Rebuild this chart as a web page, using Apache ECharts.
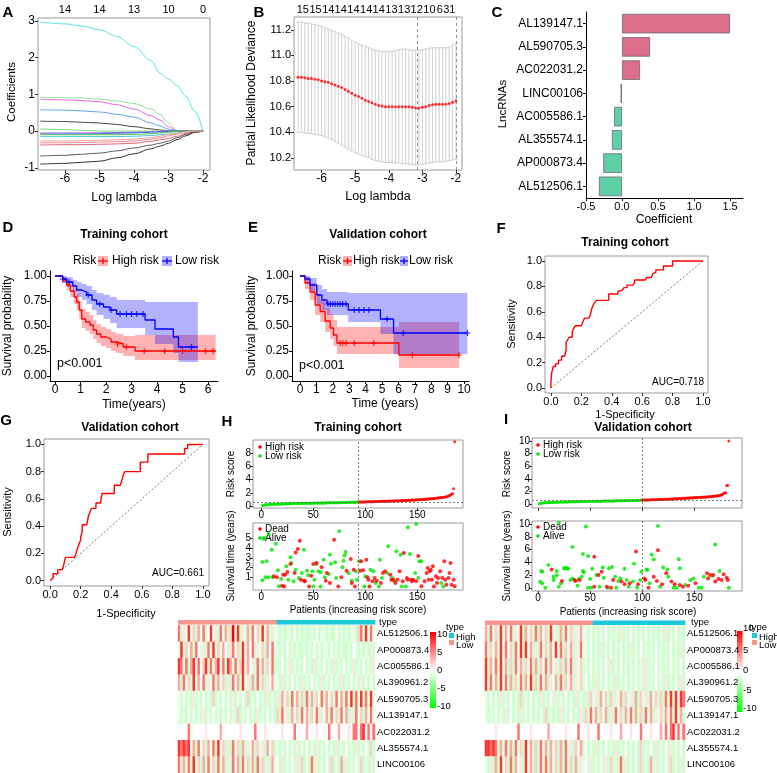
<!DOCTYPE html>
<html><head><meta charset="utf-8">
<script src="https://cdn.jsdelivr.net/npm/echarts@6/dist/echarts.min.js"></script>
<style>html,body{margin:0;padding:0;background:#fff}#c{width:777px;height:773px}</style>
</head><body><div id="c"></div>
<script>
// ================= DATA =================
// Panel A: LASSO coefficient paths
const lambdaA = [-6.72,-6.0,-5.5,-5.0,-4.5,-4.0,-3.5,-3.25,-3.0,-2.75,-2.5,-2.25,-2.0];
const coefPathsA = [
  [2.97,2.92,2.86,2.76,2.58,2.3,1.92,1.58,1.42,1.24,0.95,0.55,0],
  [0.92,0.91,0.9,0.87,0.82,0.75,0.6,0.45,0.22,0,0,0,0],
  [0.87,0.85,0.83,0.8,0.72,0.6,0.42,0.3,0.12,0,0,0,0],
  [0.58,0.57,0.55,0.52,0.46,0.38,0.22,0.14,0.05,0,0,0,0],
  [0.27,0.26,0.24,0.22,0.18,0.12,0.06,0.03,0.01,0,0,0,0],
  [0.06,0.04,0.02,0,0,0,0,0,0,0,0,0,0],
  [-0.05,-0.05,-0.05,-0.05,-0.04,-0.03,-0.02,-0.01,0,0,0,0,0],
  [-0.08,-0.08,-0.08,-0.07,-0.06,-0.05,-0.03,-0.02,-0.01,0,0,0,0],
  [-0.15,-0.15,-0.15,-0.15,-0.15,-0.14,-0.12,-0.1,-0.08,-0.05,-0.02,0,0],
  [-0.32,-0.32,-0.31,-0.3,-0.29,-0.27,-0.22,-0.18,-0.13,-0.08,-0.03,0,0],
  [-0.38,-0.37,-0.37,-0.36,-0.35,-0.33,-0.28,-0.24,-0.2,-0.14,-0.07,-0.01,0],
  [-0.68,-0.66,-0.63,-0.6,-0.54,-0.46,-0.38,-0.33,-0.27,-0.18,-0.09,-0.02,0],
  [-0.9,-0.88,-0.85,-0.82,-0.73,-0.62,-0.48,-0.41,-0.33,-0.23,-0.13,-0.04,0],
  [-0.1,-0.1,-0.1,-0.1,-0.1,-0.09,-0.07,-0.05,-0.03,-0.01,0,0,0],
  [-0.27,-0.27,-0.26,-0.25,-0.24,-0.22,-0.18,-0.14,-0.1,-0.06,-0.02,0,0]
];
const topTicksA = [-6,-5,-4,-3,-2];
const topLabelsA = ['14','14','13','10','0'];

// Panel B: cross-validation
const lambdaB = [-6.7,-6.6,-6.5,-6.4,-6.3,-6.2,-6.1,-6.0,-5.9,-5.8,-5.7,-5.6,-5.5,-5.4,-5.3,-5.2,-5.1,-5.0,-4.9,-4.8,-4.7,-4.6,-4.5,-4.4,-4.3,-4.2,-4.1,-4.0,-3.9,-3.8,-3.7,-3.6,-3.5,-3.4,-3.3,-3.2,-3.1,-3.0,-2.9,-2.8,-2.7,-2.6,-2.5,-2.4,-2.3,-2.2,-2.1,-2.0];
const meanB = [10.83,10.83,10.825,10.82,10.82,10.815,10.81,10.80,10.795,10.79,10.78,10.77,10.76,10.75,10.735,10.72,10.705,10.69,10.68,10.665,10.65,10.64,10.63,10.62,10.61,10.605,10.6,10.6,10.6,10.6,10.6,10.6,10.6,10.6,10.595,10.59,10.59,10.595,10.6,10.61,10.615,10.62,10.62,10.62,10.62,10.625,10.635,10.645];
const upperB = [11.26,11.26,11.255,11.25,11.245,11.24,11.235,11.225,11.215,11.205,11.195,11.185,11.175,11.165,11.15,11.135,11.12,11.105,11.09,11.08,11.07,11.06,11.05,11.04,11.035,11.03,11.03,11.03,11.035,11.04,11.045,11.05,11.05,11.045,11.04,11.04,11.04,11.045,11.05,11.055,11.06,11.06,11.06,11.06,11.06,11.065,11.08,11.095];
const lowerB = [10.40,10.40,10.395,10.39,10.39,10.385,10.38,10.375,10.365,10.355,10.345,10.33,10.315,10.3,10.285,10.27,10.255,10.24,10.23,10.22,10.21,10.2,10.19,10.18,10.175,10.17,10.165,10.165,10.165,10.16,10.16,10.155,10.155,10.15,10.15,10.145,10.145,10.15,10.155,10.16,10.165,10.17,10.17,10.17,10.175,10.18,10.185,10.19];
const topTicksB = [-6.556,-6.18,-5.80,-5.43,-5.05,-4.67,-4.30,-3.92,-3.54,-3.17,-2.79,-2.48,-2.29,-2.11];
const topLabelsB = ['15','15','14','14','14','14','14','13','13','12','10','6','3','1'];
const cvLinesB = [-3.15,-2.0];

// Panel C: coefficients
const lncNames = ['AL139147.1','AL590705.3','AC022031.2','LINC00106','AC005586.1','AL355574.1','AP000873.4','AL512506.1'];
const lncCoef = [1.50,0.39,0.25,-0.02,-0.11,-0.14,-0.26,-0.32];

// Panel D: KM training
const tHighD = [0,0.3,0.45,0.6,0.75,0.85,0.95,1.05,1.2,1.37,1.5,1.63,1.8,2.0,2.2,2.4,2.68,3.14,6.3];
const sHighD = [1,0.96,0.91,0.85,0.79,0.74,0.66,0.57,0.54,0.51,0.46,0.42,0.39,0.37,0.34,0.32,0.29,0.25,0.25];
const uHighD = [1,0.99,0.96,0.91,0.86,0.82,0.75,0.67,0.64,0.61,0.56,0.52,0.49,0.47,0.44,0.42,0.40,0.41,0.41];
const lHighD = [1,0.93,0.86,0.79,0.72,0.66,0.57,0.48,0.45,0.42,0.37,0.33,0.30,0.28,0.25,0.23,0.20,0.16,0.16];
const tLowD = [0,0.3,0.46,0.7,0.85,1.05,1.24,1.45,1.63,1.9,2.16,2.42,3.07,3.53,3.92,4.64,4.84,5.6];
const sLowD = [1,0.97,0.94,0.9,0.86,0.84,0.81,0.76,0.72,0.69,0.66,0.62,0.62,0.56,0.47,0.39,0.29,0.29];
const uLowD = [1,1,0.99,0.96,0.94,0.92,0.9,0.86,0.83,0.81,0.79,0.76,0.76,0.74,0.74,0.74,0.74,0.74];
const lLowD = [1,0.93,0.89,0.84,0.79,0.76,0.72,0.66,0.61,0.57,0.53,0.48,0.48,0.41,0.32,0.23,0.14,0.14];
const censHighD = [2.45,2.8,3.5,4.3,5.0,5.9,6.2];
const censLowD = [0.3,0.55,1.3,1.75,2.2,2.55,2.8,3.0,3.2,3.45,5.35];

// Panel E: KM validation
const tHighE = [0,0.3,0.61,0.92,1.23,1.53,1.84,2.04,2.25,6.03,9.7];
const sHighE = [1,0.93,0.84,0.71,0.645,0.55,0.48,0.41,0.33,0.21,0.21];
const uHighE = [1,0.99,0.93,0.82,0.76,0.68,0.62,0.56,0.49,0.54,0.54];
const lHighE = [1,0.87,0.76,0.61,0.54,0.44,0.37,0.30,0.22,0.08,0.08];
const tLowE = [0,0.3,0.61,1.02,1.33,1.64,2.94,4.9,5.7,10.2];
const sLowE = [1,0.97,0.91,0.81,0.76,0.72,0.66,0.57,0.43,0.43];
const uLowE = [1,1,0.98,0.91,0.87,0.84,0.83,0.83,0.83,0.83];
const lLowE = [1,0.93,0.85,0.72,0.66,0.61,0.54,0.42,0.22,0.22];
const censHighE = [2.45,2.6,2.8,3.3,4.5,6.85,9.7];
const censLowE = [1.7,1.85,2.0,2.15,2.3,2.45,2.6,2.8,3.3,3.6,3.9,4.2,5.3,6.3,10.2];

// Panels F/G: ROC
const fprF = [0,0,0.005,0.005,0.015,0.015,0.03,0.03,0.05,0.05,0.07,0.07,0.09,0.1,0.1,0.11,0.12,0.14,0.14,0.15,0.16,0.2,0.21,0.22,0.25,0.26,0.27,0.28,0.3,0.38,0.38,0.44,0.44,0.47,0.48,0.5,0.5,0.54,0.55,0.55,0.62,0.63,0.66,0.67,0.69,0.69,0.74,0.74,0.8,0.8,1.0];
const tprF = [0,0.05,0.05,0.12,0.12,0.17,0.17,0.19,0.19,0.22,0.22,0.25,0.25,0.3,0.36,0.38,0.4,0.4,0.44,0.47,0.49,0.49,0.52,0.55,0.55,0.58,0.63,0.66,0.69,0.69,0.74,0.74,0.76,0.77,0.79,0.79,0.81,0.81,0.83,0.85,0.85,0.87,0.87,0.9,0.91,0.93,0.93,0.96,0.96,1.0,1.0];
const fprG = [0,0.02,0.02,0.05,0.05,0.08,0.09,0.1,0.16,0.17,0.18,0.19,0.2,0.2,0.21,0.21,0.24,0.25,0.26,0.27,0.3,0.3,0.33,0.34,0.42,0.42,0.46,0.47,0.48,0.49,0.59,0.59,0.64,0.64,0.88,0.88,0.9,0.9,1.0];
const tprG = [0,0.02,0.05,0.05,0.08,0.08,0.12,0.17,0.17,0.2,0.24,0.27,0.3,0.32,0.36,0.41,0.41,0.47,0.5,0.53,0.53,0.57,0.57,0.64,0.64,0.7,0.7,0.74,0.78,0.8,0.8,0.87,0.87,0.93,0.93,0.97,0.97,1.0,1.0];
const aucF = 'AUC=0.718', aucG = 'AUC=0.661';

// Panel H: training risk plot
const riskLowH = [0.06,0.11,0.15,0.18,0.2,0.21,0.23,0.24,0.25,0.26,0.27,0.28,0.28,0.29,0.3,0.3,0.31,0.31,0.32,0.32,0.33,0.33,0.34,0.34,0.35,0.35,0.35,0.36,0.36,0.37,0.37,0.37,0.38,0.38,0.38,0.39,0.39,0.39,0.4,0.4,0.4,0.41,0.41,0.41,0.42,0.42,0.42,0.43,0.43,0.43,0.44,0.44,0.44,0.45,0.45,0.45,0.46,0.46,0.46,0.47,0.47,0.47,0.48,0.48,0.48,0.49,0.49,0.49,0.5,0.5,0.5,0.51,0.51,0.51,0.52,0.52,0.52,0.53,0.53,0.53,0.54,0.54,0.55,0.55,0.55,0.56,0.56,0.57,0.57,0.58,0.58,0.59,0.59];
const riskHighH = [0.6,0.6,0.61,0.61,0.62,0.62,0.62,0.63,0.63,0.64,0.64,0.65,0.65,0.66,0.66,0.67,0.67,0.68,0.68,0.69,0.69,0.7,0.7,0.71,0.71,0.72,0.72,0.73,0.73,0.74,0.75,0.75,0.76,0.76,0.77,0.78,0.78,0.79,0.8,0.8,0.81,0.82,0.82,0.83,0.84,0.85,0.85,0.86,0.87,0.88,0.89,0.9,0.9,0.91,0.92,0.93,0.94,0.95,0.96,0.97,0.98,0.99,1.0,1.01,1.02,1.04,1.05,1.06,1.08,1.09,1.1,1.12,1.14,1.15,1.17,1.19,1.21,1.23,1.25,1.27,1.29,1.31,1.33,1.36,1.4,1.45,1.5,1.58,1.68,1.8,1.85,2.6,9.7];
const cutH = 93, riskCutH = 0.58;
const deadH = [[12,1.1],[15,1.0],[20,0.14],[22,0.05],[21,1.27],[23,1.27],[25,1.55],[28,2.37],[32,1.44],[33,3.57],[35,3.92],[37,4.78],[38,0.76],[41,0.65],[42,0.58],[46,0.05],[48,1.17],[50,2.37],[53,2.47],[58,2.03],[62,0.65],[63,1.44],[66,0.41],[70,4.88],[74,0.05],[77,1.0],[82,1.68],[86,2.89],[87,0.41],[89,1.79],[90,0.05],[95,1.68],[96,2.65],[98,1.72],[101,2.82],[102,1.0],[103,0.76],[104,0.05],[107,0.58],[109,0.93],[111,0.65],[115,0.41],[117,1.44],[119,1.62],[124,1.27],[125,0.76],[127,0.76],[129,0.41],[131,0.76],[133,1.62],[136,0.58],[137,3.5],[140,0.93],[141,0.76],[144,0.76],[145,0.58],[146,0.76],[149,0.58],[151,3.2],[154,0.07],[157,0.58],[159,1.44],[160,1.96],[161,0.76],[162,1.62],[163,1.79],[164,0.76],[165,2.13],[166,0.05],[168,1.1],[169,0.41],[170,0.93],[172,1.62],[174,0.93],[176,2.65],[177,0.76],[178,0.24],[180,0.93],[181,1.44],[182,2.47],[183,0.24],[185,0.76],[186,0.07]];
const aliveH = [[1,0.69],[1,2.58],[2,4.98],[3,5.05],[7,5.46],[5,2.65],[4,1.0],[7,1.0],[10,3.85],[11,1.0],[14,4.47],[16,1.72],[17,0.07],[19,0.82],[24,2.13],[26,0.76],[28,3.06],[29,2.47],[31,0.58],[33,1.79],[36,0.93],[39,1.44],[41,3.85],[44,1.68],[45,1.2],[49,1.62],[50,0.05],[51,0.76],[53,2.37],[55,1.62],[57,1.51],[57,0.05],[60,2.82],[61,1.0],[65,1.34],[66,3.33],[67,2.41],[71,2.54],[72,0.93],[75,5.74],[78,2.03],[79,2.71],[80,3.26],[81,3.61],[84,1.44],[87,0.65],[91,1.62],[92,0.76],[94,2.65],[99,0.05],[100,1.1],[105,1.79],[108,1.62],[110,0.41],[113,0.05],[114,2.82],[116,0.93],[121,1.44],[122,4.19],[126,0.93],[128,0.58],[130,3.68],[134,3.33],[135,0.05],[139,0.05],[141,6.15],[143,3.4],[148,1.44],[149,6.5],[151,0.93],[152,2.65],[154,2.65],[173,0.41],[175,0.05]];

// Panel I: validation risk plot
const riskLowI = [0.05,0.09,0.12,0.15,0.17,0.19,0.2,0.21,0.22,0.23,0.24,0.25,0.26,0.26,0.27,0.28,0.28,0.29,0.3,0.3,0.31,0.31,0.32,0.32,0.33,0.33,0.34,0.34,0.35,0.35,0.36,0.36,0.36,0.37,0.37,0.38,0.38,0.38,0.39,0.39,0.4,0.4,0.4,0.41,0.41,0.41,0.42,0.42,0.42,0.43,0.43,0.43,0.44,0.44,0.44,0.45,0.45,0.45,0.46,0.46,0.46,0.47,0.47,0.47,0.48,0.48,0.48,0.49,0.49,0.49,0.5,0.5,0.5,0.51,0.51,0.51,0.52,0.52,0.52,0.53,0.53,0.54,0.54,0.54,0.55,0.55,0.56,0.56,0.56,0.57,0.57,0.58,0.58,0.59,0.59,0.6,0.6,0.61,0.61];
const riskHighI = [0.62,0.62,0.63,0.63,0.64,0.64,0.65,0.65,0.66,0.66,0.67,0.67,0.68,0.69,0.69,0.7,0.7,0.71,0.72,0.72,0.73,0.74,0.74,0.75,0.76,0.77,0.77,0.78,0.79,0.8,0.81,0.82,0.83,0.84,0.85,0.86,0.87,0.88,0.89,0.9,0.91,0.92,0.93,0.94,0.95,0.96,0.97,0.98,0.99,1.0,1.01,1.02,1.03,1.04,1.05,1.06,1.07,1.08,1.09,1.1,1.11,1.12,1.13,1.15,1.16,1.17,1.19,1.2,1.22,1.24,1.26,1.28,1.3,1.33,1.36,1.4,1.45,1.55,1.7,1.75,1.8,2.9,3.0,10.0];
const cutI = 99.5, riskCutI = 0.59;
const aliveI = [[20,10.2],[46,9.6],[115,9.7],[33,6.4],[43,5.3],[48,5.0],[92,3.8],[109,5.2],[111,4.5],[170,6.8],[135,4.5],[120,3.2],[124,2.9],[136,3.1],[3,2.65],[10,3.6],[18,2.65],[25,3.1],[27,3.1],[29,3.0],[52,3.0],[62,3.2],[71,3.3],[83,3.0],[104,2.9],[2,0.99],[4,2.55],[4,0.73],[7,0.05],[15,1.77],[15,1.25],[18,2.0],[20,0.2],[22,0.73],[26,3.07],[28,3.07],[31,1.25],[33,1.5],[38,0.36],[39,1.4],[42,1.77],[43,2.66],[44,2.45],[48,0.05],[50,1.4],[51,0.05],[56,2.03],[59,0.2],[63,1.61],[67,0.05],[68,3.07],[74,1.77],[75,0.05],[77,1.09],[79,1.5],[85,1.25],[87,0.2],[91,1.0],[95,0.05],[98,1.25],[99,2.55],[105,2.8],[107,0.73],[117,0.2],[125,1.77],[130,0.05],[133,0.05],[141,0.47],[146,1.25],[149,1.5],[154,0.05],[157,0.05],[159,1.77],[167,1.9],[174,2.66],[183,0.05]];
const deadI = [[54,4.9],[94,5.7],[115,5.9],[13,2.9],[23,1.09],[35,1.25],[36,1.09],[40,1.25],[54,0.2],[58,2.03],[61,2.55],[66,0.2],[70,0.05],[72,1.25],[80,1.0],[83,0.57],[88,0.73],[96,0.57],[102,1.5],[103,1.25],[106,0.05],[111,1.77],[114,1.09],[119,0.57],[123,2.3],[128,1.0],[131,0.57],[136,0.47],[139,0.2],[144,0.36],[151,0.73],[162,2.3],[163,1.5],[165,2.03],[168,2.03],[170,1.0],[173,1.4],[176,1.25],[178,2.14],[181,1.61],[182,1.25]];

// Heatmaps (each char = expression level code, see levelCodes)
const hmRows = ['AL512506.1','AP000873.4','AC005586.1','AL390961.2','AL590705.3','AL139147.1','AC022031.2','AL355574.1','LINC00106'];
const levelCodes = {'0':-4,'1':-2,'2':-1,'3':0,'4':1,'5':2,'6':3.5,'7':5.5,'8':8,'9':10};
const hmH = [
 '7142825162 7138241726 1592814261 7351826142 2121221312 1211213122 1211312121 2215718272',
 '2815261732 4172815263 1472518263 7142516372 2121312121 1212131212 2131212112 1321212141',
 '8727168272 5817268271 8627158263 4172615271 2131241212 1312141213 1214121312 1412131214',
 '6172518263 7142716251 4172618241 6172514262 2141213121 4121312141 2131214121 3121412131',
 '2131214121 3121512131 2141213151 2131214121 4162517261 5172615271 6251726172 8172817282',
 '2121312121 4121312121 3121512131 2141213121 5172416251 7261527142 6172517261 4172516272',
 '3333723333 3433333633 3333343333 3733343333 3343333733 3363334333 3733363334 3773783737',
 '8787826172 5162718251 4172516142 6152416251 2121312141 2131214121 3121412131 2141213151',
 '7162718251 6172517261 4172617251 6172514162 3141213141 5121714121 3151216141 2131512141'];
const hmI = [
 '6172518262 7142816251 7162518241 6172514262 2131212131 2121412131 2121312121 2141213121',
 '7152618272 5172818261 4172516282 7152614272 2131214121 3121312141 2131212131 2121312141',
 '8162718261 5172615271 6152716241 5162714251 2131212131 4121312121 3121412131 2121312131',
 '8172618271 6152716281 5172614261 7152614251 3121412131 2141213121 3121412131 2141213141',
 '2131214121 3121512131 2141213141 2131214121 4152416251 5142615241 6152416251 5172818287',
 '2121312141 3121412131 2131512121 4121312141 5172615261 4172516271 6151726142 5162718261',
 '3333433333 3337333343 3333363333 3343333733 3433373333 4333633343 3373334333 6373783737',
 '8878716271 6172518261 5172616251 6172415261 3121412131 2141213121 3151213141 2131412131',
 '2141618251 7162418261 5172716251 6172516142 3141213141 5121714121 3151216141 2131512141'];
const nLowColsH = 40, nLowColsI = 43;
const colorbarTicks = [10,5,0,-5,-10];

// ================= BUILD =================
const FONT = '"Liberation Sans", Arial, Helvetica, sans-serif';
const grids=[], xAxes=[], yAxes=[], series=[], gfx=[];
function addGrid(l,t,w,h,box){grids.push({left:l,top:t,width:w,height:h,containLabel:false,outerBoundsMode:'none',show:!!box,borderColor:'#9a9a9a',borderWidth:1,backgroundColor:'transparent'});return grids.length-1;}
function vAxis(arr,g,min,max,ticks,o){
  o=o||{};
  arr.push({type:'value',gridIndex:g,min:min,max:max,position:o.pos,
    axisLine:{show:!!o.line,onZero:false,lineStyle:{color:'#000',width:1}},
    axisTick:{show:o.tick!==false,customValues:ticks,length:o.tickLen||3,lineStyle:{color:o.tickColor||'#333'}},
    axisLabel:{show:o.label!==false,customValues:ticks,formatter:o.fmt||(v=>String(v)),fontSize:o.fs||12,color:'#000',margin:o.margin||3,fontFamily:FONT},
    splitLine:{show:false}});
  return arr.length-1;
}
function nearestLabel(ticks,labels){return v=>{let b=0;ticks.forEach((t,i)=>{if(Math.abs(t-v)<Math.abs(ticks[b]-v))b=i;});return labels[b];};}
function txt(x,y,text,o){o=o||{};gfx.push({type:'text',x:x,y:y,rotation:o.rot||0,silent:true,style:{text:text,fill:o.color||'#000',fontSize:o.fs||12,fontWeight:o.bold?'bold':'normal',fontFamily:FONT,align:o.align||'center',verticalAlign:'middle'}});}
function stepAt(t,s,x){let v=s[0];for(let i=0;i<t.length;i++){if(t[i]<=x)v=s[i];}return v;}
const plusSym='path://M4,0H6V4H10V6H6V10H4V6H0V4H4Z';

// --- A ---
const gA=addGrid(38,18,172,152,true);
const xA=vAxis(xAxes,gA,-6.78,-1.8,[-6,-5,-4,-3,-2]);
const xAt=vAxis(xAxes,gA,-6.78,-1.8,topTicksA,{pos:'top',tick:false,fs:11,fmt:nearestLabel(topTicksA,topLabelsA)});
const yA=vAxis(yAxes,gA,-1.06,3.08,[-1,0,1,2,3]);
const colorsA=['#55E3E3','#98E098','#E466E4','#66A3F0','#444444','#7CD67C','#9A66D6','#4466E0','#44CCE0','#F08A8A','#E06478','#5A5A5A','#333333','#55C055','#FF9E9E'];
coefPathsA.forEach((p,k)=>series.push({type:'line',xAxisIndex:xA,yAxisIndex:yA,data:lambdaA.map((l,i)=>[l,p[i]]),smooth:0.35,smoothMonotone:'x',showSymbol:false,symbol:'none',lineStyle:{width:1,color:colorsA[k]},silent:true}));

// --- B ---
const gB=addGrid(294,17,168,153,true);
const xB=vAxis(xAxes,gB,-6.82,-1.82,[-6,-5,-4,-3,-2]);
const xBt=vAxis(xAxes,gB,-6.82,-1.82,topTicksB,{pos:'top',tick:false,fs:11,margin:2,fmt:nearestLabel(topTicksB,topLabelsB)});
const yB=vAxis(yAxes,gB,10.106,11.30,[10.2,10.4,10.6,10.8,11.0,11.2],{fs:11,fmt:v=>v.toFixed(1)});
series.push({type:'custom',xAxisIndex:xB,yAxisIndex:yB,silent:true,encode:{x:0,y:[1,2]},
  data:lambdaB.map((l,i)=>[l,lowerB[i],upperB[i]]),
  renderItem:(p,api)=>{const x=api.value(0);const lo=api.coord([x,api.value(1)]);const hi=api.coord([x,api.value(2)]);const w=1.8;const st={stroke:'#c4c4c4',lineWidth:0.8};
    return {type:'group',children:[{type:'line',shape:{x1:lo[0],y1:lo[1],x2:hi[0],y2:hi[1]},style:st},{type:'line',shape:{x1:lo[0]-w,y1:lo[1],x2:lo[0]+w,y2:lo[1]},style:st},{type:'line',shape:{x1:hi[0]-w,y1:hi[1],x2:hi[0]+w,y2:hi[1]},style:st}]};}});
series.push({type:'scatter',xAxisIndex:xB,yAxisIndex:yB,data:lambdaB.map((l,i)=>[l,meanB[i]]),symbol:'circle',symbolSize:3,itemStyle:{color:'#FF0000'},silent:true,
  markLine:{silent:true,symbol:['none','none'],label:{show:false},lineStyle:{type:[3,3],color:'#777',width:0.8},data:cvLinesB.map(v=>({xAxis:v}))}});

// --- C ---
const gC=addGrid(586,12,157,186,false);
const xC=vAxis(xAxes,gC,-0.5,1.68,[-0.5,0,0.5,1,1.5],{line:true,fs:11,fmt:v=>v.toFixed(1),tickColor:'#000'});
yAxes.push({type:'category',gridIndex:gC,data:lncNames,inverse:true,axisLine:{show:true,onZero:false,lineStyle:{color:'#000'}},axisTick:{show:true,alignWithLabel:true,length:3,lineStyle:{color:'#000'}},axisLabel:{fontSize:12,color:'#000',margin:3,fontFamily:FONT}});
const yC=yAxes.length-1;
series.push({type:'bar',xAxisIndex:xC,yAxisIndex:yC,barCategoryGap:'16%',silent:true,
  data:lncCoef.map(v=>({value:v,itemStyle:{color:v>0?'#DC6E8C':'#5FCFA5',borderColor:'#6b6b6b',borderWidth:0.8}}))});

// --- D / E (KM) ---
function band(xi,yi,t,u,l,color){
  const n=t.length;
  series.push({type:'custom',xAxisIndex:xi,yAxisIndex:yi,silent:true,encode:{x:0,y:[1,2]},
    data:t.map((v,i)=>[v,l[i],u[i]]),
    renderItem:(p,api)=>{
      if(p.dataIndex!==0) return null;
      const pts=[];
      for(let i=0;i<n-1;i++){pts.push(api.coord([t[i],u[i]]));pts.push(api.coord([t[i+1],u[i]]));}
      for(let i=n-2;i>=0;i--){pts.push(api.coord([t[i+1],l[i]]));pts.push(api.coord([t[i],l[i]]));}
      return {type:'polygon',shape:{points:pts},style:{fill:color}};
    }});
}
function kmLine(xi,yi,t,s,color,cens){
  series.push({type:'line',xAxisIndex:xi,yAxisIndex:yi,data:t.map((v,i)=>[v,s[i]]),step:'end',symbol:'none',lineStyle:{color:color,width:1.3},silent:true});
  series.push({type:'scatter',xAxisIndex:xi,yAxisIndex:yi,data:cens.map(c=>[c,stepAt(t,s,c)]),symbol:plusSym,symbolSize:6,itemStyle:{color:color},silent:true});
}
const BANDR='rgba(255,0,0,0.3)', BANDB='rgba(0,0,255,0.3)';
const gD=addGrid(50,271,168,110,false);
const xD=vAxis(xAxes,gD,-0.196,6.39,[0,1,2,3,4,5,6],{line:true,fs:12,tickColor:'#000'});
const yD=vAxis(yAxes,gD,-0.05,1.05,[0,0.25,0.5,0.75,1],{line:true,fs:12,fmt:v=>v.toFixed(2),tickColor:'#000'});
band(xD,yD,tHighD,uHighD,lHighD,BANDR); band(xD,yD,tLowD,uLowD,lLowD,BANDB);
kmLine(xD,yD,tHighD,sHighD,'#FF0000',censHighD); kmLine(xD,yD,tLowD,sLowD,'#0000FF',censLowD);
const gE=addGrid(292,271,177,110,false);
const xE=vAxis(xAxes,gE,-0.49,10.3,[0,1,2,3,4,5,6,7,8,9,10],{line:true,fs:12,tickColor:'#000'});
const yE=vAxis(yAxes,gE,-0.05,1.05,[0,0.25,0.5,0.75,1],{line:true,fs:12,fmt:v=>v.toFixed(2),tickColor:'#000'});
band(xE,yE,tHighE,uHighE,lHighE,BANDR); band(xE,yE,tLowE,uLowE,lLowE,BANDB);
kmLine(xE,yE,tHighE,sHighE,'#FF0000',censHighE); kmLine(xE,yE,tLowE,sLowE,'#0000FF',censLowE);

// --- F / G (ROC) ---
function roc(g,fpr,tpr,lim){
  const xi=vAxis(xAxes,g,lim[0],lim[1],[0,0.2,0.4,0.6,0.8,1],{fs:11,fmt:v=>v.toFixed(1)});
  const yi=vAxis(yAxes,g,lim[2],lim[3],[0,0.2,0.4,0.6,0.8,1],{fs:11,fmt:v=>v.toFixed(1)});
  series.push({type:'line',xAxisIndex:xi,yAxisIndex:yi,data:[[0,0],[1,1]],symbol:'none',lineStyle:{type:[2,2],color:'#555',width:0.8},silent:true});
  series.push({type:'line',xAxisIndex:xi,yAxisIndex:yi,data:fpr.map((v,i)=>[v,tpr[i]]),symbol:'none',lineStyle:{color:'#FF0000',width:1.4},silent:true});
}
const gF=addGrid(545,256,163,137,true); roc(gF,fprF,tprF,[-0.039,1.033,-0.039,1.039]);
const gG=addGrid(44,439,165,147,true); roc(gG,fprG,tprG,[-0.04,1.04,-0.04,1.04]);

// --- H / I risk plots ---
const RED='#FF0000', GREEN='#00E600';
function riskPanel(gTop,gBot,xmin,xmax,yTop,yBot,lowArr,highArr,cut,riskCut,dead,alive,topLabels){
  const xt=vAxis(xAxes,gTop,xmin,xmax,[0,50,100,150],{fs:10,label:topLabels,margin:2});
  const yt=vAxis(yAxes,gTop,yTop[0],yTop[1],yTop[2],{fs:10,margin:2});
  const xb=vAxis(xAxes,gBot,xmin,xmax,[0,50,100,150],{fs:10,margin:2});
  const yb=vAxis(yAxes,gBot,yBot[0],yBot[1],yBot[2],{fs:10,margin:2});
  const ml=(d)=>({silent:true,symbol:['none','none'],label:{show:false},lineStyle:{type:[2,2],color:'#666',width:0.8},data:d});
  series.push({type:'scatter',xAxisIndex:xt,yAxisIndex:yt,data:lowArr.map((v,i)=>[i+1,v]),symbolSize:3,itemStyle:{color:GREEN},silent:true,
    markLine:ml([{xAxis:cut},{yAxis:riskCut}])});
  series.push({type:'scatter',xAxisIndex:xt,yAxisIndex:yt,data:highArr.map((v,i)=>[lowArr.length+i+1,v]),symbolSize:3,itemStyle:{color:RED},silent:true});
  series.push({type:'scatter',xAxisIndex:xb,yAxisIndex:yb,data:alive,symbolSize:4,itemStyle:{color:GREEN},silent:true,markLine:ml([{xAxis:cut}])});
  series.push({type:'scatter',xAxisIndex:xb,yAxisIndex:yb,data:dead,symbolSize:4,itemStyle:{color:RED},silent:true});
}
const gHt=addGrid(253,440,210,68,true), gHb=addGrid(253,523,210,67,true);
riskPanel(gHt,gHb,-8,194,[-0.3,9.96,[0,2,4,6,8]],[-0.31,6.6,[0,1,2,3,4,5,6]],riskLowH,riskHighH,cutH,riskCutH,deadH,aliveH,true);
const gIt=addGrid(532,438,210,70,true), gIb=addGrid(532,521,210,70,true);
riskPanel(gIt,gIb,-5.75,195.6,[-0.63,10.48,[0,2,4,6,8,10]],[-0.47,10.47,[0,2,4,6,8,10]],riskLowI,riskHighI,cutI,riskCutI,deadI,aliveI,false);

// --- Heatmaps ---
const LOWC='#F8968E', HIGHC='#1CC8DC';
function heat(left,typeTop,hmTop,width,rows,nLow){
  const rs=rows.map(r=>r.replace(/ /g,''));
  const ncol=rs[0].length; const cols=[]; for(let i=0;i<ncol;i++)cols.push(String(i));
  const gt=addGrid(left,typeTop,width,4.5,false), gh=addGrid(left,hmTop,width,147.5,false);
  const hide={axisLine:{show:false},axisTick:{show:false},axisLabel:{show:false},splitLine:{show:false}};
  xAxes.push(Object.assign({type:'category',gridIndex:gt,data:cols},hide)); const xt=xAxes.length-1;
  yAxes.push(Object.assign({type:'category',gridIndex:gt,data:['type']},hide)); const yt=yAxes.length-1;
  xAxes.push(Object.assign({type:'category',gridIndex:gh,data:cols},hide)); const xh=xAxes.length-1;
  yAxes.push({type:'category',gridIndex:gh,data:hmRows,inverse:true,position:'right',axisLine:{show:false},axisTick:{show:false},splitLine:{show:false},axisLabel:{fontSize:9.5,color:'#000',margin:2,fontFamily:FONT}}); const yh=yAxes.length-1;
  series.push({type:'custom',xAxisIndex:xt,yAxisIndex:yt,silent:true,data:cols.map((c,i)=>[i,0,i<nLow?0:1]),encode:{x:0,y:1},
    renderItem:(p,api)=>{const c=api.coord([api.value(0),0]);const s=api.size([1,1]);return {type:'rect',shape:{x:c[0]-s[0]/2,y:c[1]-s[1]/2,width:s[0]+0.4,height:s[1]},style:{fill:api.value(2)===1?HIGHC:LOWC}};}});
  const data=[]; rs.forEach((r,ri)=>{for(let c=0;c<r.length;c++)data.push([c,ri,levelCodes[r[c]]]);});
  series.push({type:'heatmap',xAxisIndex:xh,yAxisIndex:yh,data:data,silent:true,itemStyle:{borderWidth:0}});
  return series.length-1;
}
const sHH=heat(178,620,625.5,197,hmH,nLowColsH);
const sHI=heat(485,620.5,625.5,200,hmI,nLowColsI);

// ================= GRAPHIC TEXT / LEGENDS =================
[['A',8,13],['B',259,13],['C',497,13],['D',8,228],['E',253,228],['F',501,229],['G',6,421],['H',227,422],['I',506,420]].forEach(a=>txt(a[1],a[2],a[0],{bold:true,fs:15}));
[['Training cohort',124,235],['Validation cohort',378,235],['Training cohort',625,243],['Validation cohort',130,428],['Training cohort',358,428],['Validation cohort',643,428]].forEach(a=>txt(a[1],a[2],a[0],{bold:true,fs:12}));
const R90=Math.PI/2;
txt(12,92,'Coefficients',{rot:R90,fs:11.5}); txt(124,198,'Log lambda',{fs:12.5});
txt(252,93,'Partial Likelihood Deviance',{rot:R90,fs:12}); txt(378,197,'Log lambda',{fs:12.5});
txt(503,104,'LncRNAs',{rot:R90,fs:11.5}); txt(664,220,'Coefficient',{fs:12});
txt(8,326,'Survival probability',{rot:R90,fs:12}); txt(134,405,'Time(years)',{fs:12});
txt(252,326,'Survival probability',{rot:R90,fs:12}); txt(385,404,'Time (years)',{fs:12});
txt(512,324,'Sensitivity',{rot:R90,fs:11}); txt(625,415,'1-Specificity',{fs:11});
txt(8,512,'Sensitivity',{rot:R90,fs:11}); txt(126,614,'1-Specificity',{fs:11});
txt(231,474,'Risk score',{rot:R90,fs:10}); txt(231,556,'Survival time (years)',{rot:R90,fs:10}); txt(358,610,'Patients (increasing risk score)',{fs:10});
txt(507,474,'Risk score',{rot:R90,fs:10}); txt(507,556,'Survival time (years)',{rot:R90,fs:10}); txt(628,612,'Patients (increasing risk score)',{fs:10});
txt(57,364,'p<0.001',{align:'left',fs:12.5}); txt(299,366,'p<0.001',{align:'left',fs:12.5});
txt(704,382,aucF,{align:'right',fs:10}); txt(204,573,aucG,{align:'right',fs:10});
// KM legends
function kmKey(cx,cy,w,color,bandc){
  gfx.push({type:'rect',shape:{x:cx-w/2,y:cy-5,width:w,height:10},style:{fill:bandc},silent:true});
  gfx.push({type:'line',shape:{x1:cx-w/2,y1:cy,x2:cx+w/2,y2:cy},style:{stroke:color,lineWidth:1.3},silent:true});
  gfx.push({type:'line',shape:{x1:cx,y1:cy-3,x2:cx,y2:cy+3},style:{stroke:color,lineWidth:1.3},silent:true});
}
txt(73,261,'Risk',{align:'left'}); kmKey(103,261,10,'#FF0000',BANDR); txt(112,261,'High risk',{align:'left'}); kmKey(167,261,10,'#0000FF',BANDB); txt(175,261,'Low risk',{align:'left'});
txt(318,261,'Risk',{align:'left'}); kmKey(347.5,261,9,'#FF0000',BANDR); txt(353,261,'High risk',{align:'left'}); kmKey(404,261,8,'#0000FF',BANDB); txt(409,261,'Low risk',{align:'left'});
// risk legends
function dotLeg(x,y,color,label){gfx.push({type:'circle',shape:{cx:x,cy:y,r:1.8},style:{fill:color},silent:true});txt(x+5,y,label,{align:'left',fs:10});}
dotLeg(260,447,RED,'High risk'); dotLeg(260,456,GREEN,'Low risk'); dotLeg(260,529,RED,'Dead'); dotLeg(260,538,GREEN,'Alive');
dotLeg(538,445,RED,'High risk'); dotLeg(538,454,GREEN,'Low risk'); dotLeg(538,527,RED,'Dead'); dotLeg(538,536,GREEN,'Alive');
// heatmap annotations
function colorbar(x,y,w,h,labelX,labelYs){
  gfx.push({type:'rect',shape:{x:x,y:y,width:w,height:h},silent:true,style:{fill:{type:'linear',x:0,y:0,x2:0,y2:1,colorStops:[{offset:0,color:'#FF0000'},{offset:0.5,color:'#FFFFFF'},{offset:1,color:'#00FF00'}]}}});
  colorbarTicks.forEach((t,i)=>txt(labelX,labelYs[i],String(t),{align:'left',fs:9.5}));
}
colorbar(430,632,6,76,437,[634,652,670,688,706]);
colorbar(737,631,5.5,81,743,[628,650,670,690,708]);
txt(379,622,'type',{align:'left',fs:9.5}); txt(691,622,'type',{align:'left',fs:9.5});
function typeLeg(x,y){txt(x-3,y,'type',{align:'left',fs:9.5});
  gfx.push({type:'rect',shape:{x:x,y:y+6,width:5,height:5},style:{fill:HIGHC},silent:true}); txt(x+7,y+10,'High',{align:'left',fs:9.5});
  gfx.push({type:'rect',shape:{x:x,y:y+13,width:5,height:5},style:{fill:LOWC},silent:true}); txt(x+7,y+18,'Low',{align:'left',fs:9.5});}
typeLeg(449,627); typeLeg(752,627);

const chart=echarts.init(document.getElementById('c'),null,{renderer:'canvas',width:777,height:773});
chart.setOption({animation:false,backgroundColor:'#fff',textStyle:{fontFamily:FONT},
  grid:grids,xAxis:xAxes,yAxis:yAxes,series:series,
  visualMap:[{type:'continuous',show:false,min:-10,max:10,dimension:2,seriesIndex:[sHH,sHI],inRange:{color:['#00FF00','#FFFFFF','#FF0000']}}],
  graphic:gfx});
</script></body></html>
